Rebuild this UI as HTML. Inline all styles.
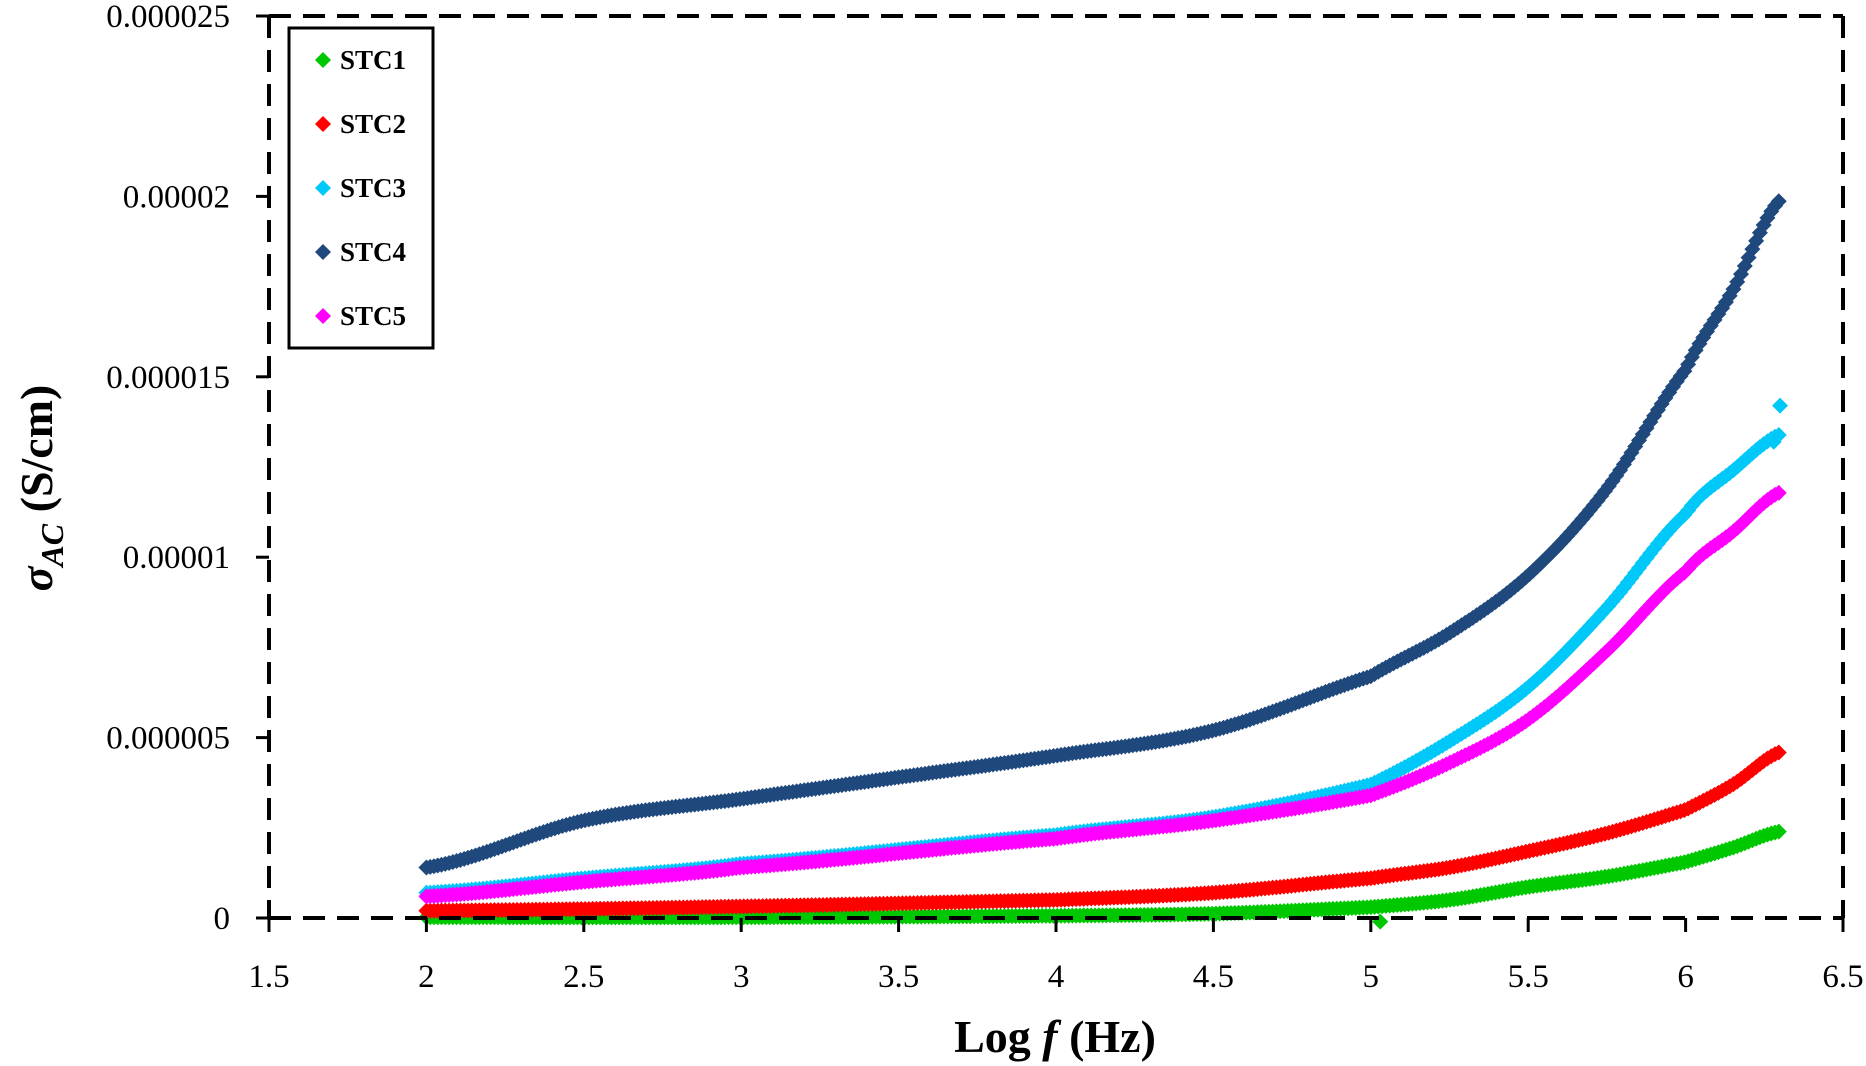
<!DOCTYPE html>
<html><head><meta charset="utf-8"><style>
html,body{margin:0;padding:0;background:#fff;}
svg{display:block;font-family:"Liberation Serif",serif;}
</style></head><body>
<svg id="s" width="1866" height="1066" viewBox="0 0 1866 1066" xmlns="http://www.w3.org/2000/svg">
<rect width="1866" height="1066" fill="#fff"/>
<g id="data"></g>
<g stroke="#000" stroke-width="4" fill="none" stroke-dasharray="22,12">
<line x1="269" y1="16" x2="1843" y2="16"/>
<line x1="1843" y1="16" x2="1843" y2="918"/>
<line x1="269" y1="918" x2="1843" y2="918"/>
<line x1="269" y1="16" x2="269" y2="918"/>
</g>
<g stroke="#000" stroke-width="3" id="ticks"></g>
<g font-size="33" text-anchor="end" id="ylab"></g>
<g font-size="33" text-anchor="middle" id="xlab"></g>
<text x="1055" y="1052" font-size="46" font-weight="bold" text-anchor="middle">Log <tspan font-style="italic">f</tspan> (Hz)</text>
<text transform="translate(52,488) rotate(-90)" font-size="46" font-weight="bold" text-anchor="middle"><tspan font-style="italic">σ</tspan><tspan font-style="italic" font-size="32" dy="11">AC</tspan><tspan dy="-11">  (S/cm)</tspan></text>
<rect x="289" y="28" width="144" height="320" fill="#fff" stroke="#000" stroke-width="3"/>
<g font-size="27" font-weight="bold" id="leg"></g>
</svg>
<script>
var NS="http://www.w3.org/2000/svg";
function X(v){return 269+(v-1.5)*314.8;}
function Y(v){return 918-v*36.08;}
var t=document.getElementById('ticks'),yl=document.getElementById('ylab'),xl=document.getElementById('xlab');
var yt=["0","0.000005","0.00001","0.000015","0.00002","0.000025"];
for(var i=0;i<6;i++){var y=Y(i*5);
 var l=document.createElementNS(NS,'line');l.setAttribute('x1',256);l.setAttribute('x2',269);l.setAttribute('y1',y);l.setAttribute('y2',y);t.appendChild(l);
 var tx=document.createElementNS(NS,'text');tx.setAttribute('x',230);tx.setAttribute('y',y+11);tx.textContent=yt[i];yl.appendChild(tx);}
for(var v=1.5;v<=6.51;v+=0.5){var x=X(v);
 var l=document.createElementNS(NS,'line');l.setAttribute('x1',x);l.setAttribute('x2',x);l.setAttribute('y1',918);l.setAttribute('y2',932);t.appendChild(l);
 var tx=document.createElementNS(NS,'text');tx.setAttribute('x',x);tx.setAttribute('y',987);tx.textContent=(Math.round(v*10)/10).toString();xl.appendChild(tx);}
var S=[
 ["#00c800",[[2,0.02],[3,0.02],[4,0.06],[4.5,0.12],[5,0.3],[5.25,0.5],[5.5,0.86],[5.75,1.15],[6,1.55],[6.15,1.95],[6.3,2.4]],"STC1"],
 ["#ff0000",[[2,0.2],[3,0.32],[4,0.5],[4.5,0.7],[5,1.1],[5.25,1.4],[5.5,1.85],[5.75,2.35],[6,3.0],[6.15,3.7],[6.3,4.6]],"STC2"],
 ["#00c8f8",[[2,0.7],[2.5,1.1],[3,1.5],[4,2.3],[4.5,2.8],[5,3.7],[5.25,4.9],[5.5,6.4],[5.75,8.6],[6,11.2],[6.15,12.4],[6.3,13.4]],"STC3"],
 ["#1f497d",[[2,1.4],[2.5,2.7],[3,3.3],[3.5,3.9],[4,4.5],[4.5,5.2],[5,6.7],[5.25,7.9],[5.5,9.5],[5.75,11.9],[6,15.2],[6.15,17.4],[6.3,19.9]],"STC4"],
 ["#ff00ff",[[2,0.6],[2.5,1.0],[3,1.4],[4,2.2],[4.5,2.7],[5,3.4],[5.25,4.3],[5.5,5.5],[5.75,7.4],[6,9.6],[6.15,10.7],[6.3,11.8]],"STC5"]];
function interp(k,x){for(var i=0;i<k.length-1;i++){if(x<=k[i+1][0]){var a=k[i],b=k[i+1],t=(x-a[0])/(b[0]-a[0]);
 var p0=k[Math.max(i-1,0)][1],p1=a[1],p2=b[1],p3=k[Math.min(i+2,k.length-1)][1];
 return 0.5*((2*p1)+(-p0+p2)*t+(2*p0-5*p1+4*p2-p3)*t*t+(-p0+3*p1-3*p2+p3)*t*t*t);}}return k[k.length-1][1];}
var d=document.getElementById('data'),lg=document.getElementById('leg');
function dia(x,y,r){return (x)+","+(y-r)+" "+(x+r)+","+y+" "+x+","+(y+r)+" "+(x-r)+","+y;}
function pt(g,x,y){var p=document.createElementNS(NS,'polygon');p.setAttribute('points',dia(x,y,8));g.appendChild(p);}
S.forEach(function(s,idx){var g=document.createElementNS(NS,'g');g.setAttribute('fill',s[0]);
 for(var v=2;v<=6.301;v+=0.012){pt(g,X(v),Y(interp(s[1],v)));}
 if(idx==0)pt(g,X(5.03),Y(-0.1));
 if(idx==2){pt(g,X(6.3),Y(14.2));pt(g,X(6.28),Y(13.2));}
 d.appendChild(g);
 var ly=60+idx*64;var q=document.createElementNS(NS,'polygon');q.setAttribute('points',dia(323,ly,8));q.setAttribute('fill',s[0]);lg.appendChild(q);
 var tx=document.createElementNS(NS,'text');tx.setAttribute('x',340);tx.setAttribute('y',ly+9);tx.textContent=s[2];lg.appendChild(tx);});
</script>
</body></html>
